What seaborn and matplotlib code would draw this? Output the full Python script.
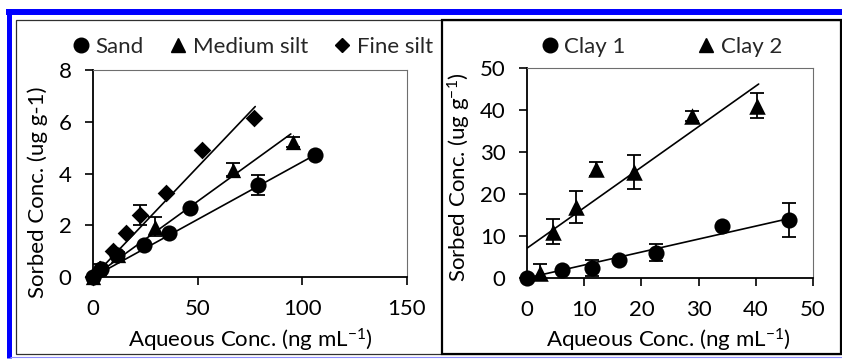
import numpy as np
import pandas as pd
import matplotlib
matplotlib.use("Agg")
import matplotlib.pyplot as plt
from matplotlib.lines import Line2D
from matplotlib.patches import Rectangle
import seaborn as sns

# ---- data: particle-size fractions ----
sand_x = [0, 4, 11.5, 24.5, 36.5, 46.5, 79, 106]
sand_y = [0, 0.3, 0.85, 1.25, 1.7, 2.65, 3.55, 4.7]
sand_err = [0, 0, 0, 0, 0, 0, 0.4, 0]

msilt_x = [0, 3, 12, 29.5, 67, 95.5]
msilt_y = [0, 0.35, 0.85, 1.95, 4.15, 5.22]
msilt_err = [0, 0.15, 0.1, 0.35, 0.25, 0.2]

fsilt_x = [0, 3.5, 9.7, 16, 22.5, 35, 52.3, 77]
fsilt_y = [0, 0.3, 1.0, 1.7, 2.4, 3.25, 4.9, 6.15]
fsilt_err = [0, 0, 0, 0, 0.4, 0, 0, 0]

# linear fits: (slope, intercept, x_max)
sand_fit = (0.0445, 0.0, 106)
msilt_fit = (0.0585, 0.0, 94.5)
fsilt_fit = (0.085, 0.0, 77.5)

# ---- data: clays ----
clay1_x = [0, 6.2, 11.4, 16.1, 22.6, 34.1, 45.8]
clay1_y = [0, 1.8, 2.45, 4.3, 6.0, 12.4, 13.8]
clay1_err = [0, 0, 1.9, 0, 2.0, 0, 4.1]

clay2_x = [2.3, 4.6, 8.5, 12.0, 18.7, 28.8, 40.2]
clay2_y = [1.1, 11.0, 17.0, 25.9, 25.2, 38.6, 41.0]
clay2_err = [2.2, 3.0, 3.8, 1.6, 4.0, 1.2, 3.0]

clay1_fit = (0.309, 0.0, 46)
clay2_fit = (0.965, 7.1, 40.5)

sns.set_theme(style="white")
plt.rcParams["font.family"] = ["Lato", "DejaVu Sans"]
plt.rcParams["mathtext.default"] = "regular"

W, H = 842, 359
fig = plt.figure(figsize=(W / 100, H / 100), dpi=100)
fig.patch.set_facecolor("white")


def ax_rect(l, r, t, b):
    return [l / W, (H - b) / H, (r - l) / W, (b - t) / H]


ax1 = fig.add_axes(ax_rect(93, 407, 70, 277))
ax2 = fig.add_axes(ax_rect(527, 813, 68, 278))

FS = 16
MS = 135  # marker area in pt^2


def series(ax, x, y, err, fit, marker, size, label):
    df = pd.DataFrame({"x": x, "y": y})
    xs = np.array([0, fit[2]])
    ldf = pd.DataFrame({"x": xs, "y": fit[0] * xs + fit[1]})
    sns.lineplot(data=ldf, x="x", y="y", ax=ax, color="black", lw=1.2, zorder=2)
    e = np.array(err, dtype=float)
    mask = e > 0
    if mask.any():
        ax.errorbar(np.array(x)[mask], np.array(y)[mask], yerr=e[mask], fmt="none",
                    ecolor="black", elinewidth=1.3, capsize=5, capthick=1.3, zorder=3)
    sns.scatterplot(data=df, x="x", y="y", ax=ax, marker=marker, s=size,
                    color="black", edgecolor="black", linewidth=0, zorder=4,
                    label=label, clip_on=False)


series(ax1, sand_x, sand_y, sand_err, sand_fit, "o", MS, "Sand")
series(ax1, msilt_x, msilt_y, msilt_err, msilt_fit, "^", MS * 0.9, "Medium silt")
series(ax1, fsilt_x, fsilt_y, fsilt_err, fsilt_fit, "D", MS * 0.6, "Fine silt")

series(ax2, clay1_x, clay1_y, clay1_err, clay1_fit, "o", MS, "Clay 1")
series(ax2, clay2_x, clay2_y, clay2_err, clay2_fit, "^", MS * 1.05, "Clay 2")

ax1.set_xlim(0, 150)
ax1.set_ylim(0, 8)
ax1.set_xticks([0, 50, 100, 150])
ax1.set_yticks([0, 2, 4, 6, 8])
ax2.set_xlim(0, 50)
ax2.set_ylim(0, 50)
ax2.set_xticks([0, 10, 20, 30, 40, 50])
ax2.set_yticks([0, 10, 20, 30, 40, 50])

for ax in (ax1, ax2):
    for s in ("left", "bottom"):
        ax.spines[s].set_color("black")
        ax.spines[s].set_linewidth(1.3)
    for s in ("top", "right"):
        ax.spines[s].set_color("#6e6e6e")
        ax.spines[s].set_linewidth(0.8)
    ax.tick_params(axis="both", direction="out", length=5.5, width=1.2,
                   color="black", labelsize=FS, labelcolor="black", pad=10,
                   bottom=True, left=True)
    ax.set_facecolor("white")

ax1.set_xlabel(r"Aqueous Conc. (ng mL$^{-1}$)", fontsize=FS, color="black")
ax1.set_ylabel("Sorbed Conc. (ug g-1)", fontsize=FS, color="black")
ax1.xaxis.set_label_coords(0.50, -0.24)
ax1.yaxis.set_label_coords(-0.143, 0.41)

ax2.set_xlabel(r"Aqueous Conc. (ng mL$^{-1}$)", fontsize=FS, color="black")
ax2.set_ylabel(r"Sorbed Conc. (ug g$^{-1}$)", fontsize=FS, color="black")
ax2.xaxis.set_label_coords(0.495, -0.232)
ax2.yaxis.set_label_coords(-0.189, 0.48)

h1 = [Line2D([], [], ls="none", marker="o", ms=10.5, color="black"),
      Line2D([], [], ls="none", marker="^", ms=10, color="black"),
      Line2D([], [], ls="none", marker="D", ms=7.5, color="black")]
ax1.legend(h1, ["Sand", "Medium silt", "Fine silt"], ncol=3, loc="center",
           bbox_to_anchor=(0.51, 1.111), frameon=False, fontsize=FS,
           handlelength=0.7, handletextpad=0.3, columnspacing=1.2, borderpad=0)

h2 = [Line2D([], [], ls="none", marker="o", ms=10.5, color="black"),
      Line2D([], [], ls="none", marker="^", ms=10.5, color="black")]
ax2.legend(h2, ["Clay 1", "Clay 2"], ncol=2, loc="center",
           bbox_to_anchor=(0.472, 1.10), frameon=False, fontsize=FS,
           handlelength=0.7, handletextpad=0.3, columnspacing=3.3, borderpad=0)


# ---- surrounding frame ----
def fx(px):
    return px / W


def fy(py):
    return (H - py) / H


# black panel borders
fig.add_artist(Rectangle((fx(16), fy(354)), fx(841) - fx(16), fy(20) - fy(354),
                         transform=fig.transFigure, fill=False, ec="#303030", lw=0.9))
fig.add_artist(Rectangle((fx(442), fy(354)), fx(841) - fx(442), fy(20) - fy(354),
                         transform=fig.transFigure, fill=False, ec="black", lw=1.6))
# blue page rules
fig.add_artist(Line2D([fx(6), fx(842)], [fy(12), fy(12)], transform=fig.transFigure,
                      color="#0000ff", lw=4.3, solid_capstyle="butt"))
fig.add_artist(Line2D([fx(8.5), fx(8.5)], [fy(9), fy(358)], transform=fig.transFigure,
                      color="#0000ff", lw=3.6, solid_capstyle="butt"))
fig.add_artist(Line2D([fx(10), fx(842)], [fy(357), fy(357)], transform=fig.transFigure,
                      color="#8c8cff", lw=0.8, solid_capstyle="butt"))

fig.savefig("out.png", dpi=100, facecolor="white")
